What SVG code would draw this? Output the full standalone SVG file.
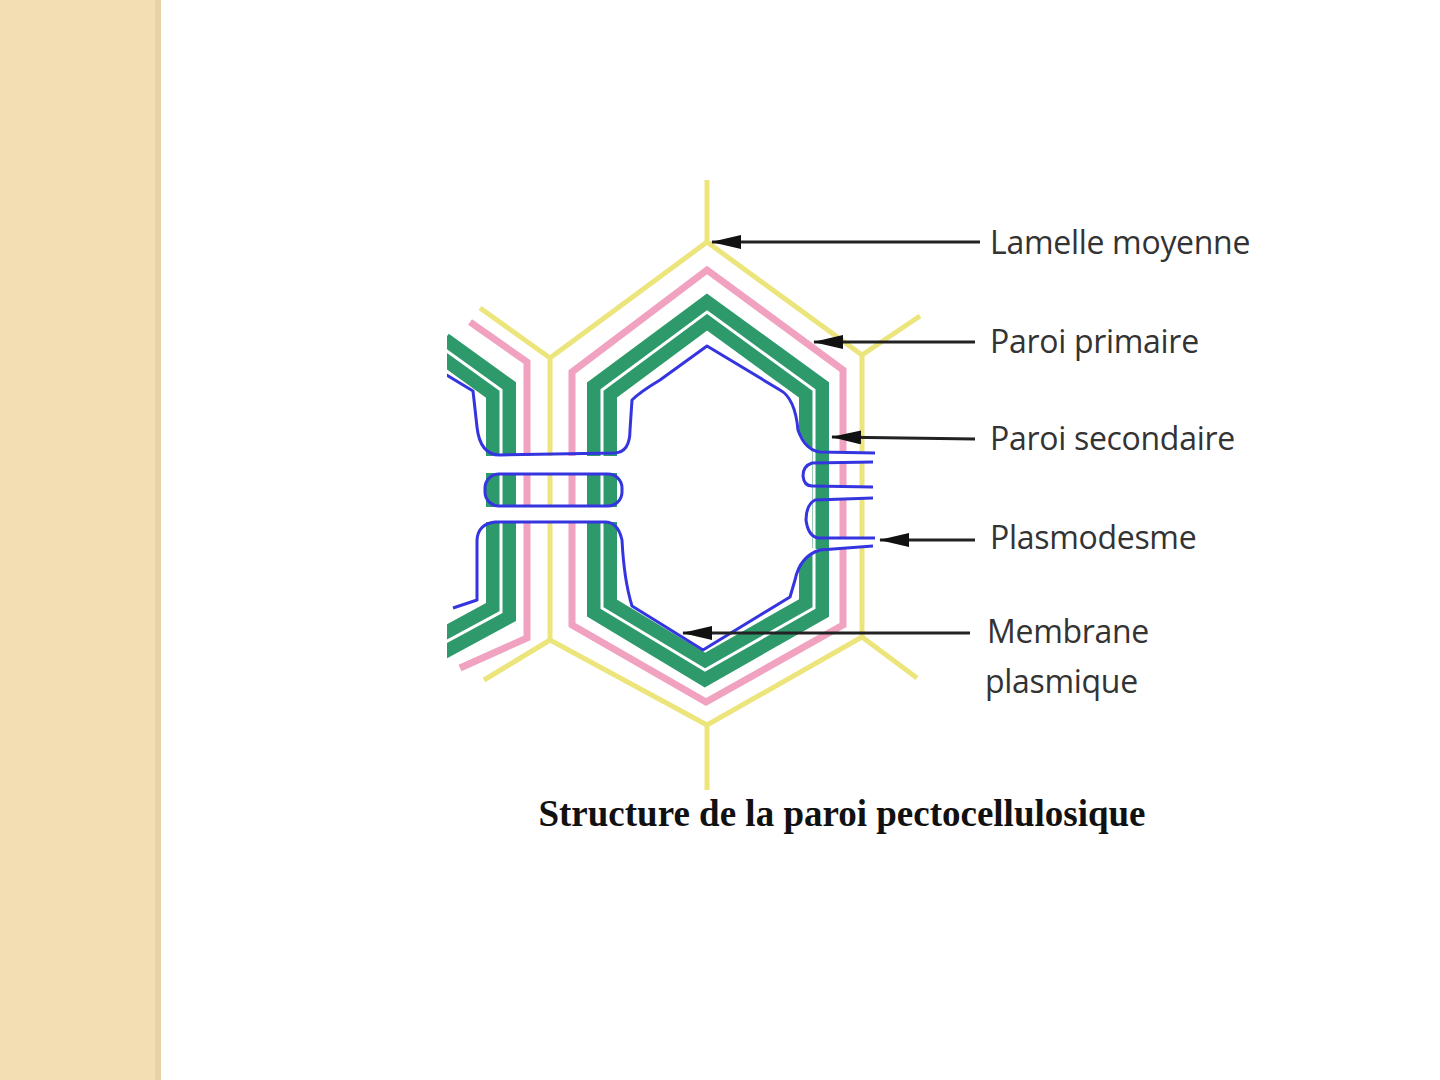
<svg xmlns="http://www.w3.org/2000/svg" width="1440" height="1080" viewBox="0 0 1440 1080">
<style>
.y{fill:none;stroke:#ece57c;stroke-width:5}
.p{fill:none;stroke:#f0a2c0;stroke-width:7}
.g{fill:none;stroke:#2e9a6c;stroke-width:30;stroke-linejoin:miter}
.gw{fill:none;stroke:#fff;stroke-width:3}
.b{fill:none;stroke:#3535e0;stroke-width:3;stroke-linejoin:round}
.a{stroke:#222;stroke-width:3;marker-end:url(#ah)}
.t{font-family:"Open Sans","Liberation Sans",sans-serif;font-size:32px;fill:#333;letter-spacing:-0.3px}
</style>
<defs>
<marker id="ah" markerWidth="30" markerHeight="14" refX="29" refY="7" orient="auto" markerUnits="userSpaceOnUse" viewBox="0 0 30 14"><path d="M0,0 L30,7 L0,14z" fill="#111"/></marker>
<clipPath id="c"><rect x="447" y="150" width="600" height="700"/></clipPath>
</defs>
<rect x="0" y="0" width="1440" height="1080" fill="#fff"/>
<rect x="0" y="0" width="160" height="1080" fill="#f2deb2"/>
<rect x="155" y="0" width="6" height="1080" fill="#e6d2a6"/>
<g id="cell" clip-path="url(#c)">
<polyline class="y" points="707,180 707,242 862,355 862,637 707,725 707,790"/>
<polyline class="y" points="707,242 550,358 550,640 707,725"/>
<polyline class="y" points="862,355 920,316"/>
<polyline class="y" points="862,637 917,678"/>
<polyline class="y" points="480,308 550,358"/>
<polyline class="y" points="550,640 484,680"/>
<polygon class="p" points="707,270 843,370 843,625 706,702 572,625 572,372"/>
<polygon class="g" points="707,312 814,390 814,608 705,670 602,608 602,390"/>
<polygon class="gw" points="707,312 814,390 814,608 705,670 602,608 602,390"/>
<polyline class="p" points="470,322 527,362 527,638 460,668"/>
<polyline class="g" points="440,346 501,390 501,612 440,645"/>
<polyline class="gw" points="440,346 501,390 501,612 440,645"/>
<rect x="470" y="456" width="160" height="17" fill="#fff"/>
<rect x="470" y="507" width="160" height="15" fill="#fff"/>
<path d="M630,455 L632,400 L707,346 L790,395 L798,430 L812,452 L812,548 L820,550 Q800,556 795,580 L790,597 L703,650 L632,606 L622,540 L622,455 Z" fill="#fff"/>
<rect x="835" y="452" width="45" height="10" fill="#fff"/>
<rect x="835" y="487" width="45" height="11" fill="#fff"/>
<rect x="835" y="538" width="45" height="9" fill="#fff"/>
<path class="b" d="M445,374 L473,391 L477,427 Q480,455 500,455 L615,453 Q630,452 630,430 L632,400 Q640,392 660,380 L707,346 L780,390 Q795,398 798,430 Q805,450 820,452 L875,453"/>
<path class="b" d="M873,462 L812,463 Q803,466 803,476 Q804,486 812,486 L873,487"/>
<path class="b" d="M873,498 L815,500 Q806,505 806,520 Q808,536 818,538 L875,538"/>
<path class="b" d="M873,546 L820,550 Q800,556 795,580 L790,597 L703,650 L632,606 Q624,580 622,540 Q618,522 605,522 L495,522 Q478,524 477,540 L477,600 L453,608"/>
<rect class="b" x="485" y="474" width="137" height="32" rx="14"/>
</g>
<g id="connectors">
<line class="a" x1="980" y1="242" x2="712" y2="242"/>
<line class="a" x1="975" y1="342" x2="814" y2="342"/>
<line class="a" x1="975" y1="439" x2="832" y2="437"/>
<line class="a" x1="975" y1="540" x2="880" y2="540"/>
<line class="a" x1="970" y1="633" x2="683" y2="633"/>
</g>
<g id="labels">
<text class="t" x="990" y="254">Lamelle moyenne</text>
<text class="t" x="990" y="353">Paroi primaire</text>
<text class="t" x="990" y="450">Paroi secondaire</text>
<text class="t" x="990" y="549">Plasmodesme</text>
<text class="t" x="987" y="643">Membrane</text>
<text class="t" x="985" y="693">plasmique</text>
</g>
<text id="title" x="842" y="826" text-anchor="middle" font-family="Liberation Serif,serif" font-weight="bold" font-size="37" fill="#111">Structure de la paroi pectocellulosique</text>
</svg>
